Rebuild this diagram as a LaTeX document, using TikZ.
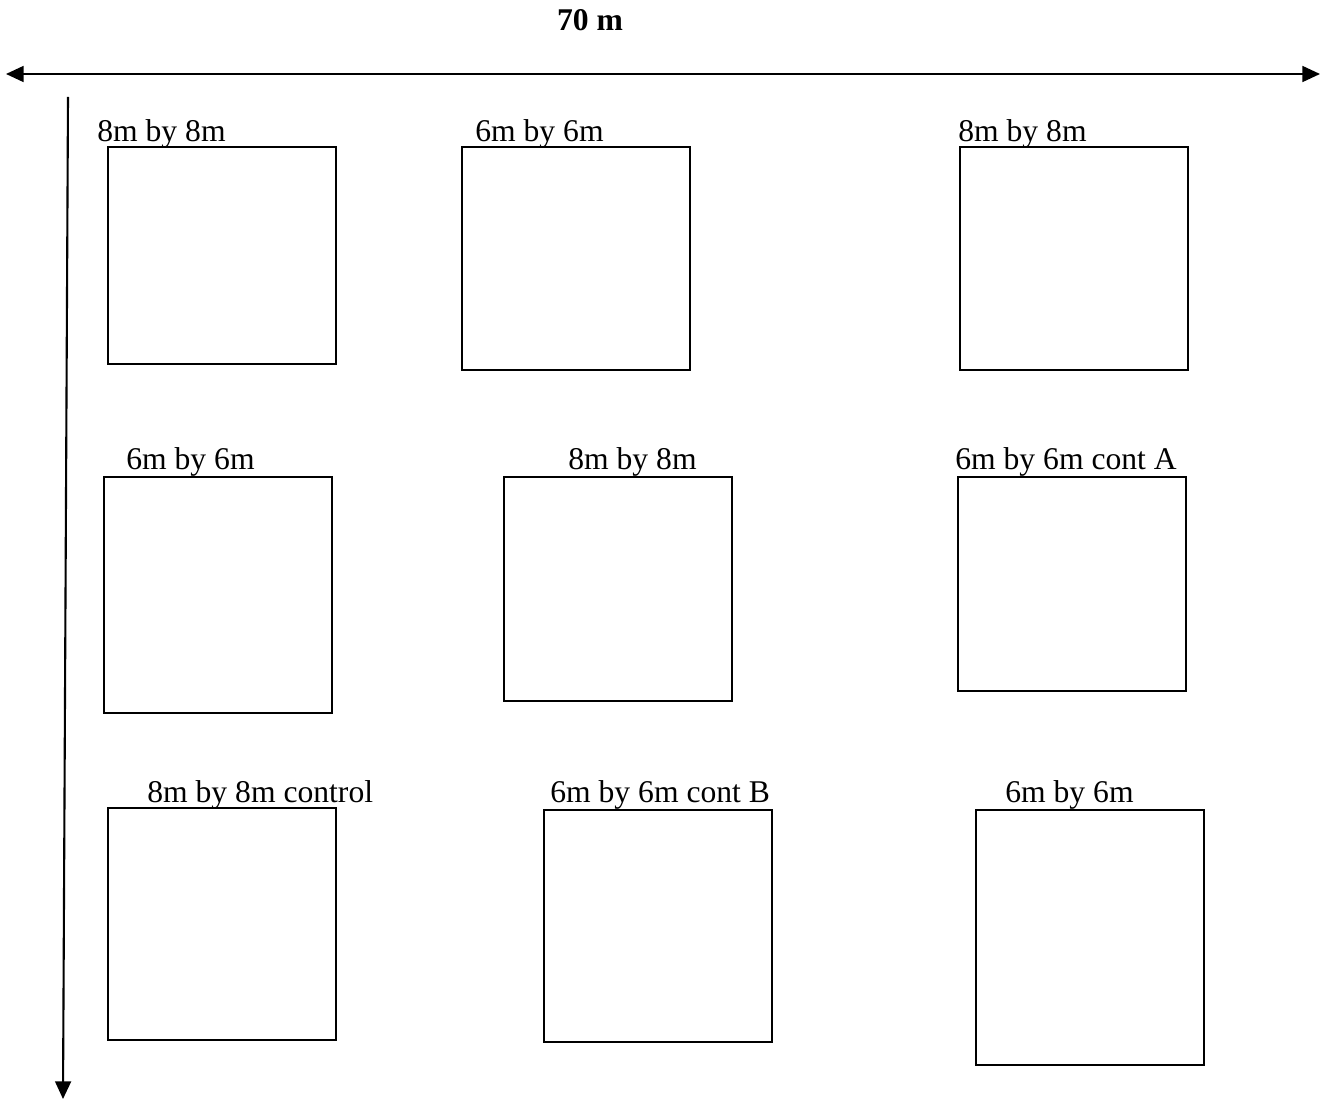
\documentclass[tikz,border=0pt]{standalone}
\usepackage{fontspec}
\setmainfont{Liberation Serif}
\usetikzlibrary{arrows.meta}
\tikzset{
  bed/.style={draw, line width=1.1pt, inner sep=0pt, outer sep=0pt, anchor=north west},
  lbl/.style={inner sep=0pt, anchor=base west, font=\fontsize{18}{20}\selectfont},
  dim/.style={line width=1.2pt, -{Triangle[length=10pt,width=9pt]}},
}
\begin{document}
\begin{tikzpicture}[x=0.02cm, y=-0.02cm]
\useasboundingbox (0,0) rectangle (1326,1101);
% dimension arrows
\coordinate (hl) at (6,74);
\coordinate (hr) at (1320,74);
\coordinate (hm) at (663,74);
\draw[dim] (hm) -- (hl);
\draw[dim] (hm) -- (hr);
\node[inner sep=0pt, anchor=base, font=\fontsize{18}{20}\selectfont\bfseries] (len) at (590,31) {70 m};
\coordinate (vt) at (68,97);
\coordinate (vb) at (63,1099);
\draw[dim] (vt) -- (vb);
% row 1
\node[bed, minimum width=228*0.02cm, minimum height=217*0.02cm] (b1) at (108,147) {};
\node[bed, minimum width=228*0.02cm, minimum height=223*0.02cm] (b2) at (462,147) {};
\node[bed, minimum width=228*0.02cm, minimum height=223*0.02cm] (b3) at (960,147) {};
\node[lbl] (l1) at (97,142) {8m by 8m};
\node[lbl] (l2) at (475,142) {6m by 6m};
\node[lbl] (l3) at (958,142) {8m by 8m};
% row 2
\node[bed, minimum width=228*0.02cm, minimum height=236*0.02cm] (b4) at (104,477) {};
\node[bed, minimum width=228*0.02cm, minimum height=224*0.02cm] (b5) at (504,477) {};
\node[bed, minimum width=228*0.02cm, minimum height=214*0.02cm] (b6) at (958,477) {};
\node[lbl] (l4) at (126,470) {6m by 6m};
\node[lbl] (l5) at (568,470) {8m by 8m};
\node[lbl] (l6) at (955,470) {6m by 6m cont A};
% row 3
\node[bed, minimum width=228*0.02cm, minimum height=232*0.02cm] (b7) at (108,808) {};
\node[bed, minimum width=228*0.02cm, minimum height=232*0.02cm] (b8) at (544,810) {};
\node[bed, minimum width=228*0.02cm, minimum height=255*0.02cm] (b9) at (976,810) {};
\node[lbl] (l7) at (147,802) {8m by 8m control};
\node[lbl] (l8) at (550,802) {6m by 6m cont B};
\node[lbl] (l9) at (1005,802) {6m by 6m};
\end{tikzpicture}
\end{document}
